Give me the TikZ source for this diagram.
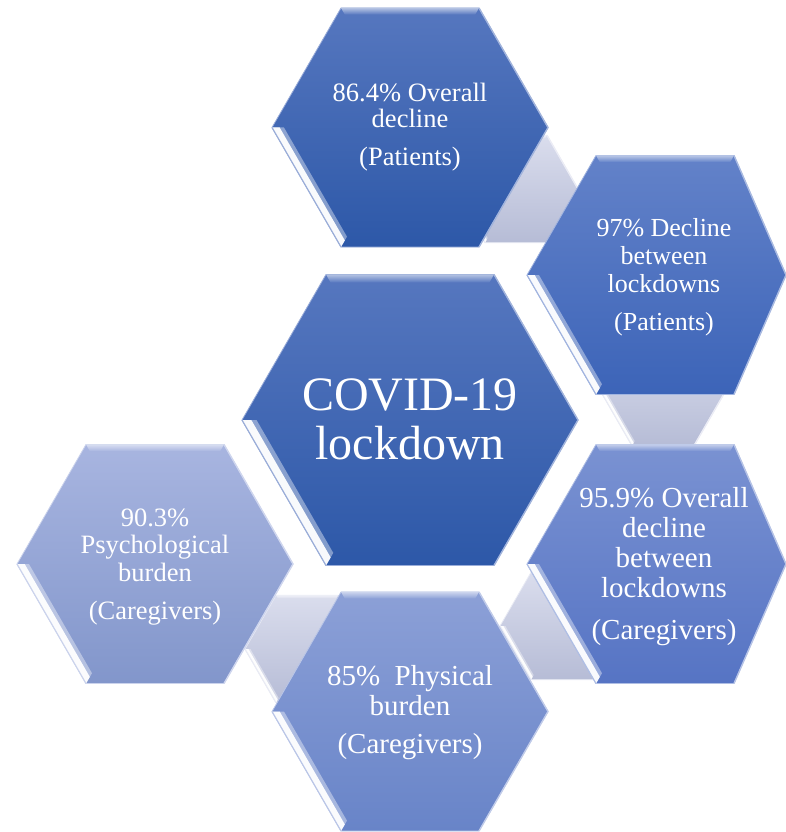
\documentclass[tikz,border=0pt]{standalone}
\usepackage{fontspec}
\setmainfont{Liberation Serif}
\definecolor{aTop}{HTML}{5677BF}
\definecolor{aBot}{HTML}{2D58A8}
\definecolor{bTop}{HTML}{6382C9}
\definecolor{bBot}{HTML}{3C64B8}
\definecolor{cTop}{HTML}{7A92D2}
\definecolor{cBot}{HTML}{5674C4}
\definecolor{dTop}{HTML}{8CA0D7}
\definecolor{dBot}{HTML}{6884C8}
\definecolor{eTop}{HTML}{A8B5E0}
\definecolor{eBot}{HTML}{8296CB}
\definecolor{gTop}{HTML}{DADDED}
\definecolor{gBot}{HTML}{B6BCD6}
% #1 cx, #2 cy, #3 side, #4 right extent, #5 top colour, #6 bottom colour
\newcommand{\hexdraw}[6]{%
\begin{scope}
\pgfmathsetmacro{\hh}{#3*0.8660254}
\pgfmathsetmacro{\hs}{#3/2}
\pgfmathsetmacro{\bt}{#3*0.075}
\pgfmathsetmacro{\bi}{#3*0.048}
\path[top color=#5, bottom color=#6, draw=#5!60!white, line width=0.8pt]
  (#1-#3,#2) -- (#1-\hs,#2-\hh) -- (#1+\hs,#2-\hh) -- (#1+#4,#2)
  -- (#1+\hs,#2+\hh) -- (#1-\hs,#2+\hh) -- cycle;
\path[top color=white!55!#5, bottom color=#5]
  (#1-\hs,#2-\hh) -- (#1+\hs,#2-\hh) -- (#1+\hs-0.577*\bi,#2-\hh+\bi)
  -- (#1-\hs+0.577*\bi,#2-\hh+\bi) -- cycle;
\path[fill=white, opacity=0.4]
  (#1-#3,#2) -- (#1-\hs,#2+\hh) -- (#1-\hs+0.577*\bt,#2+\hh-\bt)
  -- (#1-#3+1.155*\bt,#2) -- cycle;
\path[fill=white, opacity=0.95]
  (#1-#3,#2) -- (#1-\hs,#2+\hh) -- (#1-\hs+0.577*\bi,#2+\hh-\bi)
  -- (#1-#3+1.155*\bi,#2) -- cycle;
\draw[white!45!#5, line width=1.4pt, line join=round]
  (#1+\hs,#2-\hh) -- (#1+#4,#2) -- (#1+\hs,#2+\hh);
\draw[#5!60!white, line width=1.2pt] (#1-#3,#2) -- (#1-\hs,#2+\hh);
\end{scope}}
\tikzset{
  lbl/.style={text=white, anchor=base, inner sep=0pt},
  fsmall/.style={font=\fontsize{26.5}{26}\selectfont},
  fb/.style={font=\fontsize{26}{26}\selectfont},
  fmid/.style={font=\fontsize{29}{30}\selectfont},
  fbig/.style={font=\fontsize{48}{49}\selectfont}
}
\begin{document}
\begin{tikzpicture}[x=1pt,y=-1pt]
\useasboundingbox (0,0) rectangle (786,832);
\begin{scope}
\clip (0,0) rectangle (786,832);
% grey linking hexagons (behind)
\hexdraw{516}{189}{62}{62}{gTop}{gBot}
\hexdraw{663}{392}{62}{62}{gTop}{gBot}
\hexdraw{562}{626}{62}{62}{gTop}{gBot}
\hexdraw{307}{649}{62}{62}{gTop}{gBot}
% main hexagons
\hexdraw{410}{127.5}{138}{138}{aTop}{aBot}
\hexdraw{665}{275}{138}{121}{bTop}{bBot}
\hexdraw{665}{564}{138}{121}{cTop}{cBot}
\hexdraw{410}{711.5}{138}{138}{dTop}{dBot}
\hexdraw{155}{564}{138}{138}{eTop}{eBot}
\hexdraw{410}{420}{168}{168}{aTop}{aBot}
\end{scope}
% texts
\node[lbl,fbig] (m1) at (410,410) {COVID-19};
\node[lbl,fbig] (m2) at (410,459) {lockdown};
\node[lbl,fsmall] (a1) at (410,102) {86.4\% Overall};
\node[lbl,fsmall] (a2) at (410,128) {decline};
\node[lbl,fsmall] (a3) at (410,165) {(Patients)};
\node[lbl,fb] (b1) at (664,236) {97\% Decline};
\node[lbl,fb] (b2) at (664,264) {between};
\node[lbl,fb] (b3) at (664,292) {lockdowns};
\node[lbl,fb] (b4) at (664,330) {(Patients)};
\node[lbl,fmid] (c1) at (664,507) {95.9\% Overall};
\node[lbl,fmid] (c2) at (664,537) {decline};
\node[lbl,fmid] (c3) at (664,567) {between};
\node[lbl,fmid] (c4) at (664,597) {lockdowns};
\node[lbl,fmid] (c5) at (664,639) {(Caregivers)};
\node[lbl,fmid] (d1) at (410,685) {85\%\ \ Physical};
\node[lbl,fmid] (d2) at (410,715) {burden};
\node[lbl,fmid] (d3) at (410,753) {(Caregivers)};
\node[lbl,fsmall] (e1) at (155,526) {90.3\%};
\node[lbl,fsmall] (e2) at (155,553) {Psychological};
\node[lbl,fsmall] (e3) at (155,581) {burden};
\node[lbl,fsmall] (e4) at (155,619) {(Caregivers)};
\end{tikzpicture}
\end{document}
